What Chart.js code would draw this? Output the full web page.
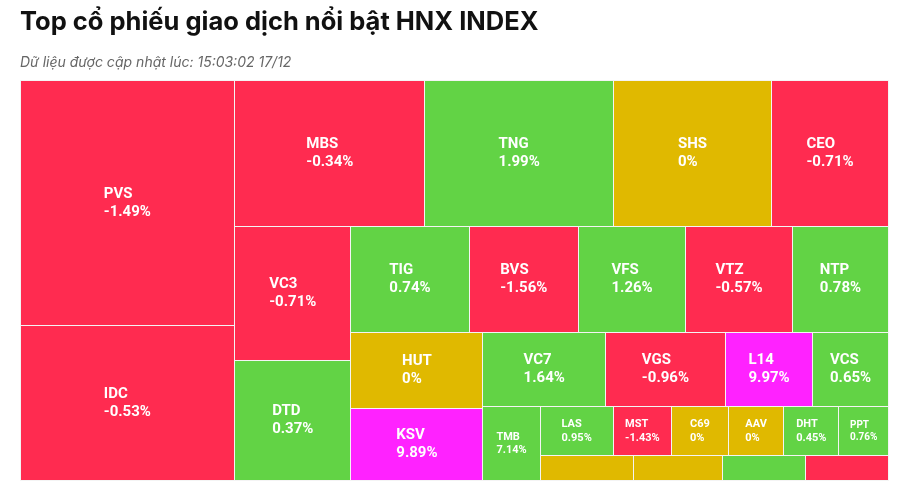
<!DOCTYPE html>
<html lang="vi">
<head>
<meta charset="utf-8">
<title>Top cổ phiếu giao dịch nổi bật HNX INDEX</title>
<script src="https://cdn.jsdelivr.net/npm/chart.js@4.4.1/dist/chart.umd.min.js"></script>
<style>
  html, body { margin: 0; padding: 0; background: #ffffff; }
  #wrap { width: 906px; height: 496px; }
</style>
</head>
<body>
<div id="wrap"><canvas id="c" width="906" height="496"></canvas></div>
<script>
// ---------------- DATA ----------------
const chartTitle = 'Top cổ phiếu giao dịch nổi bật HNX INDEX';
const chartSubtitle = 'Dữ liệu được cập nhật lúc: 15:03:02 17/12';

// tickers (the last four cells carry no readable label in the picture)
const tickers = ['PVS','IDC','MBS','TNG','SHS','CEO','VC3','DTD','TIG','BVS','VFS','VTZ','NTP',
                 'HUT','KSV','VC7','VGS','L14','VCS','TMB','LAS','MST','C69','AAV','DHT','PPT',
                 '','','',''];
// relative trading value (share of the total)
const tradeValues = [1511.6, 960.4, 801.8, 793.4, 666.8, 492.6, 447.0, 401.4, 358.2, 332.1, 324.5, 324.0, 291.2,
                     290.6, 273.5, 263.1, 258.0, 187.3, 163.0, 121.1, 103.0, 82.1, 80.1, 77.9, 77.8, 69.8,
                     66.4, 63.5, 59.5, 58.8];
// price change in % (null = not shown in the picture)
const changes = [-1.49, -0.53, -0.34, 1.99, 0, -0.71, -0.71, 0.37, 0.74, -1.56, 1.26, -0.57, 0.78,
                 0, 9.89, 1.64, -0.96, 9.97, 0.65, 7.14, 0.95, -1.43, 0, 0, 0.45, 0.76,
                 null, null, null, null];
// price state: down / up / ref (unchanged) / ceil (ceiling price)
const trends = ['down','down','down','up','ref','down','down','up','up','down','up','down','up',
                'ref','ceil','up','down','ceil','up','up','up','down','ref','ref','up','up',
                'ref','ref','up','down'];

const trendColors = { down: '#FF2B50', up: '#62D345', ref: '#E0B900', ceil: '#FF22FF' };

// ---------------- LAYOUT (squarified, alternating direction) ----------------
function squarifiedLayout(parent, vals) {
  const out = [];
  const plot = { x: parent.x, y: parent.y };
  const g = { height: parent.height, width: parent.width, direction: parent.direction,
              total: 0, nW: 0, lW: 0, nH: 0, lH: 0, elArr: [],
              lP: { total: 0, lH: 0, nH: 0, lW: 0, nW: 0, nR: 0, lR: 0 } };
  const ar = (w, h) => Math.max(w / h, h / w);
  function add(el) {
    g.lP.total = g.elArr[g.elArr.length - 1];
    g.total += el;
    if (g.direction === 0) {
      g.lW = g.nW; g.lP.lH = g.lP.total / g.lW; g.lP.lR = ar(g.lW, g.lP.lH);
      g.nW = g.total / g.height; g.lP.nH = g.lP.total / g.nW; g.lP.nR = ar(g.nW, g.lP.nH);
    } else {
      g.lH = g.nH; g.lP.lW = g.lP.total / g.lH; g.lP.lR = ar(g.lP.lW, g.lH);
      g.nH = g.total / g.width; g.lP.nW = g.lP.total / g.nH; g.lP.nR = ar(g.lP.nW, g.nH);
    }
    g.elArr.push(el);
  }
  function reset() { g.nW = 0; g.lW = 0; g.elArr = []; g.total = 0; }
  function calc(last) {
    let gW = g.lW, gH = g.lH, keep;
    if (last) { gW = g.nW; gH = g.nH; } else { keep = g.elArr[g.elArr.length - 1]; }
    const end = g.elArr.length - 1;
    g.elArr.forEach((p, i) => {
      if (last || i < end) {
        let pW, pH;
        if (g.direction === 0) { pW = gW; pH = p / pW; } else { pH = gH; pW = p / pH; }
        out.push({ x: plot.x, y: plot.y, width: pW, height: pH });
        if (g.direction === 0) plot.y += pH; else plot.x += pW;
      }
    });
    reset();
    if (g.direction === 0) g.width -= gW; else g.height -= gH;
    plot.y = parent.y + (parent.height - g.height);
    plot.x = parent.x + (parent.width - g.width);
    g.direction = 1 - g.direction;
    if (!last) add(keep);
  }
  vals.forEach((v, i) => {
    add(parent.width * parent.height * (v / parent.val));
    if (g.lP.nR > g.lP.lR) calc(false);
    if (i === vals.length - 1) calc(true);
  });
  return out;
}

// ---------------- CUSTOM CHART.JS CONTROLLER ----------------
class TreemapController extends Chart.DatasetController {
  update(mode) {
    const meta = this._cachedMeta;
    const area = this.chart.chartArea;
    const xs = meta.xScale, ys = meta.yScale;
    const vals = this.getDataset().data;
    const total = vals.reduce((a, b) => a + b, 0);
    const axisRatio = (area.right - area.left) / (area.bottom - area.top);
    const rects = squarifiedLayout({ x: 0, y: 0, width: 100 * axisRatio, height: 100, direction: 0, val: total }, vals);
    this._cells = rects.map(r => ({ x0: r.x / axisRatio, x1: (r.x + r.width) / axisRatio, y0: r.y, y1: r.y + r.height }));
    meta.data.forEach((el, i) => {
      const c = this._cells[i];
      el.x = xs.getPixelForValue((c.x0 + c.x1) / 2);
      el.y = ys.getPixelForValue((c.y0 + c.y1) / 2);
    });
  }
  draw() {
    const ctx = this.chart.ctx;
    const meta = this._cachedMeta;
    const xs = meta.xScale, ys = meta.yScale;
    const ds = this.getDataset();
    const crisp = v => Math.floor(v) + 0.5;
    ctx.save();
    this._cells.forEach((c, i) => {
      const l = crisp(xs.getPixelForValue(c.x0)), r = crisp(xs.getPixelForValue(c.x1));
      const t = crisp(ys.getPixelForValue(c.y0)), b = crisp(ys.getPixelForValue(c.y1));
      ctx.fillStyle = ds.backgroundColor[i];
      ctx.fillRect(l, t, r - l, b - t);
      ctx.strokeStyle = ds.borderColor;
      ctx.lineWidth = ds.borderWidth;
      ctx.strokeRect(l, t, r - l, b - t);
    });
    // data labels: two left-aligned lines, block centred in the cell
    this._cells.forEach((c, i) => {
      if (!ds.names[i] || ds.changes[i] === null) return;
      const l = xs.getPixelForValue(c.x0), r = xs.getPixelForValue(c.x1);
      const t = ys.getPixelForValue(c.y0), b = ys.getPixelForValue(c.y1);
      const w = r - l, h = b - t;
      const fs = (w >= 75 && h >= 60) ? 15 : (w >= 52 ? 11 : 10);
      const lh = fs * 1.2;
      ctx.font = 'bold ' + fs + 'px Roboto, "Liberation Sans", sans-serif';
      const line1 = ds.names[i];
      const line2 = ds.changes[i] + '%';
      const bw = Math.max(ctx.measureText(line1).width, ctx.measureText(line2).width);
      if (bw > w - 4 || 2 * lh > h - 2) return;
      const cx = (l + r) / 2, cy = (t + b) / 2;
      const x = cx - bw / 2;
      ctx.fillStyle = '#ffffff';
      ctx.textAlign = 'left';
      ctx.textBaseline = 'middle';
      ctx.fillText(line1, x, cy - lh / 2);
      ctx.fillText(line2, x, cy + lh / 2);
    });
    ctx.restore();
  }
}
TreemapController.id = 'squaretree';
TreemapController.defaults = { datasetElementType: false, dataElementType: 'point' };
Chart.register(TreemapController);

// ---------------- CHART ----------------
new Chart(document.getElementById('c'), {
  type: 'squaretree',
  data: {
    labels: tickers,
    datasets: [{
      data: tradeValues,
      names: tickers,
      changes: changes,
      backgroundColor: trends.map(t => trendColors[t]),
      borderColor: '#f4f4f4',
      borderWidth: 1
    }]
  },
  options: {
    responsive: false,
    animation: false,
    events: [],
    devicePixelRatio: 1,
    layout: { padding: { left: 20, right: 17.5, top: 0, bottom: 15.5 } },
    scales: {
      x: { type: 'linear', min: 0, max: 100, display: false },
      y: { type: 'linear', min: 0, max: 100, reverse: true, display: false }
    },
    plugins: {
      legend: { display: false },
      tooltip: { enabled: false },
      title: {
        display: true, text: chartTitle, align: 'start', color: '#111111',
        font: { family: 'Inter', size: 25.5, weight: 'bold', lineHeight: 1.2 },
        padding: { top: 7.2, bottom: 10 }
      },
      subtitle: {
        display: true, text: chartSubtitle, align: 'start', color: '#666666',
        font: { family: 'Inter', size: 14, style: 'italic', weight: 'normal', lineHeight: 1.2 },
        padding: { top: 6.8, bottom: 9.1 }
      }
    }
  }
});
</script>
</body>
</html>
